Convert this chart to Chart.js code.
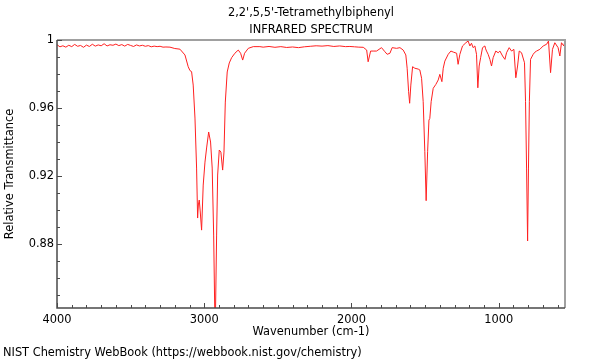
<!DOCTYPE html>
<html><head><meta charset="utf-8">
<script src="https://cdn.jsdelivr.net/npm/chart.js@4"></script>
<style>html,body{margin:0;padding:0;background:#fff}canvas{display:block}</style>
</head><body>
<canvas id="c" width="600" height="360"></canvas>
<script>
const title1 = "2,2',5,5'-Tetramethylbiphenyl";
const title2 = "INFRARED SPECTRUM";
const xTitle = "Wavenumber (cm-1)";
const yTitle = "Relative Transmittance";
const footer = "NIST Chemistry WebBook (https://webbook.nist.gov/chemistry)";

const wavenumber = [
4000,3980,3960,3940,3920,3900,3880,3860,3840,3820,3800,3780,3760,3740,3720,3700,3680,3660,3640,3620,
3600,3580,3560,3540,3520,3500,3480,3460,3440,3420,3400,3380,3360,3340,3320,3300,3280,3260,3233,3200,
3165,3131,3109,3097,3086,3075,3063,3052,3045,3040,3034,3028,3018,3007,2995,2984,2970,2957,2946,2936,
2926,2916,2909,2898,2887,2875,2866,2857,2844,2830,2814,2792,2769,2753,2739,2726,2701,2667,2622,2600,
2560,2520,2480,2440,2400,2360,2320,2280,2240,2200,2160,2120,2080,2040,2011,1980,1950,1920,1897,1887,
1870,1853,1830,1796,1773,1758,1739,1724,1694,1671,1649,1631,1622,1612,1605,1597,1585,1570,1547,1536,
1524,1513,1502,1493,1483,1474,1468,1459,1445,1427,1411,1400,1386,1377,1366,1343,1325,1309,1286,1276,
1264,1246,1223,1208,1196,1185,1174,1162,1151,1142,1133,1123,1110,1094,1089,1083,1072,1060,1049,1038,
1020,1004,992,974,958,947,929,913,897,884,872,861,845,825,818,811,804,798,792,784,
766,755,743,721,698,675,662,648,635,619,597,585,574,558,550
];
const transmittance = [
0.9972,0.9960,0.9966,0.9958,0.9969,0.9961,0.9974,0.9963,0.9968,0.9957,0.9970,0.9962,0.9975,0.9964,0.9971,0.9966,0.9978,0.9965,0.9972,0.9969,
0.9976,0.9967,0.9973,0.9964,0.9974,0.9968,0.9962,0.9971,0.9965,0.9969,0.9963,0.9967,0.9960,0.9964,0.9961,0.9963,0.9958,0.9959,0.9958,0.9950,
0.9946,0.9912,0.9843,0.9820,0.9814,0.9735,0.9541,0.9247,0.8953,0.9030,0.9059,0.9000,0.8882,0.9147,0.9282,0.9365,0.9459,0.9400,0.9247,0.8853,
0.8250,0.8853,0.9206,0.9353,0.9341,0.9235,0.9341,0.9635,0.9812,0.9865,0.9896,0.9922,0.9941,0.9922,0.9882,0.9922,0.9951,0.9961,0.9961,0.9958,
0.9962,0.9957,0.9961,0.9956,0.9959,0.9955,0.9960,0.9963,0.9966,0.9964,0.9967,0.9962,0.9965,0.9961,0.9962,0.9960,0.9958,0.9957,0.9941,0.9872,
0.9935,0.9935,0.9935,0.9955,0.9931,0.9916,0.9922,0.9955,0.9951,0.9955,0.9941,0.9912,0.9834,0.9696,0.9628,0.9735,0.9843,0.9834,0.9829,0.9824,
0.9775,0.9637,0.9343,0.9055,0.9343,0.9529,0.9539,0.9637,0.9716,0.9739,0.9765,0.9798,0.9755,0.9834,0.9876,0.9916,0.9935,0.9929,0.9922,0.9857,
0.9916,0.9965,0.9984,0.9994,0.9965,0.9981,0.9955,0.9965,0.9916,0.9719,0.9847,0.9896,0.9955,0.9965,0.9948,0.9935,0.9916,0.9886,0.9847,0.9896,
0.9935,0.9925,0.9935,0.9906,0.9886,0.9925,0.9955,0.9935,0.9945,0.9778,0.9847,0.9935,0.9925,0.9866,0.9637,0.9247,0.8818,0.9247,0.9637,0.9886,
0.9916,0.9928,0.9935,0.9945,0.9965,0.9975,0.9994,0.9808,0.9945,0.9984,0.9955,0.9906,0.9984,0.9965,0.9994
];
const xTickLabels = [4000, 3000, 2000, 1000];
const yTickLabels = [1, 0.96, 0.92, 0.88];

const FONT = "'DejaVu Sans', sans-serif";
const FSIZE = 11.4;
const points = wavenumber.map((w, i) => ({x: w, y: transmittance[i]}));

const decor = {
  id: 'decor',
  afterDatasetsDraw(chart) {
    const {ctx, chartArea: a, scales} = chart;
    const xs = scales.x, ys = scales.y;
    ctx.save();
    ctx.strokeStyle = '#a0a0a0';
    ctx.lineWidth = 2;
    ctx.beginPath();
    ctx.moveTo(a.left, a.top); ctx.lineTo(a.right, a.top); ctx.lineTo(a.right, a.bottom);
    ctx.stroke();
    ctx.strokeStyle = '#4a4a4a';
    ctx.lineWidth = 1.5;
    ctx.beginPath();
    ctx.moveTo(a.left, a.top); ctx.lineTo(a.left, a.bottom); ctx.lineTo(a.right, a.bottom);
    ctx.stroke();
    ctx.lineWidth = 1;
    ctx.beginPath();
    for (let v = 4000; v >= 600; v -= 100) {
      const px = Math.round(xs.getPixelForValue(v)) + 0.5;
      const len = (v % 1000 === 0) ? 5 : 3;
      ctx.moveTo(px, a.bottom); ctx.lineTo(px, a.bottom - len);
    }
    for (let k = 100; k >= 85; k--) {
      const py = Math.round(ys.getPixelForValue(k / 100)) + 0.5;
      const len = (k % 4 === 0) ? 5 : 3;
      ctx.moveTo(a.left, py); ctx.lineTo(a.left + len, py);
    }
    ctx.stroke();
    ctx.restore();
  },
  afterDraw(chart) {
    const {ctx, chartArea: a} = chart;
    const cx = (a.left + a.right) / 2;
    ctx.save();
    ctx.fillStyle = '#000';
    ctx.font = FSIZE + 'px ' + FONT;
    ctx.textAlign = 'center';
    ctx.textBaseline = 'middle';
    ctx.fillText(title1, cx, 13.5);
    ctx.fillText(title2, cx, 30);
    ctx.fillText(xTitle, cx, 332.5);
    ctx.textAlign = 'left';
    ctx.fillText(footer, 3, 353);
    ctx.translate(10, (a.top + a.bottom) / 2);
    ctx.rotate(-Math.PI / 2);
    ctx.textAlign = 'center';
    ctx.fillText(yTitle, 0, 0);
    ctx.restore();
  }
};

new Chart(document.getElementById('c'), {
  type: 'scatter',
  data: {
    datasets: [{
      data: points,
      showLine: true,
      borderColor: '#ff2020',
      borderWidth: 1,
      pointRadius: 0,
      tension: 0
    }]
  },
  options: {
    responsive: false,
    animation: false,
    layout: {padding: {left: 0, top: 40, right: 35, bottom: 0}},
    plugins: {legend: {display: false}, title: {display: false}, tooltip: {enabled: false}},
    scales: {
      x: {
        type: 'linear', reverse: true, min: 550, max: 4000,
        afterBuildTicks: s => { s.ticks = xTickLabels.map(v => ({value: v})); },
        afterFit: s => { s.height = 52; },
        grid: {display: false, drawTicks: false},
        border: {display: false},
        ticks: {autoSkip: false, maxRotation: 0, padding: 5, color: '#000',
                font: {family: FONT, size: FSIZE}, callback: v => String(v)}
      },
      y: {
        type: 'linear', min: 0.8424, max: 1,
        afterBuildTicks: s => { s.ticks = yTickLabels.map(v => ({value: v})); },
        afterFit: s => { s.width = 57; },
        grid: {display: false, drawTicks: false},
        border: {display: false},
        ticks: {autoSkip: false, padding: 3, color: '#000',
                font: {family: FONT, size: FSIZE}, callback: v => String(v)}
      }
    }
  },
  plugins: [decor]
});
</script>
</body></html>
